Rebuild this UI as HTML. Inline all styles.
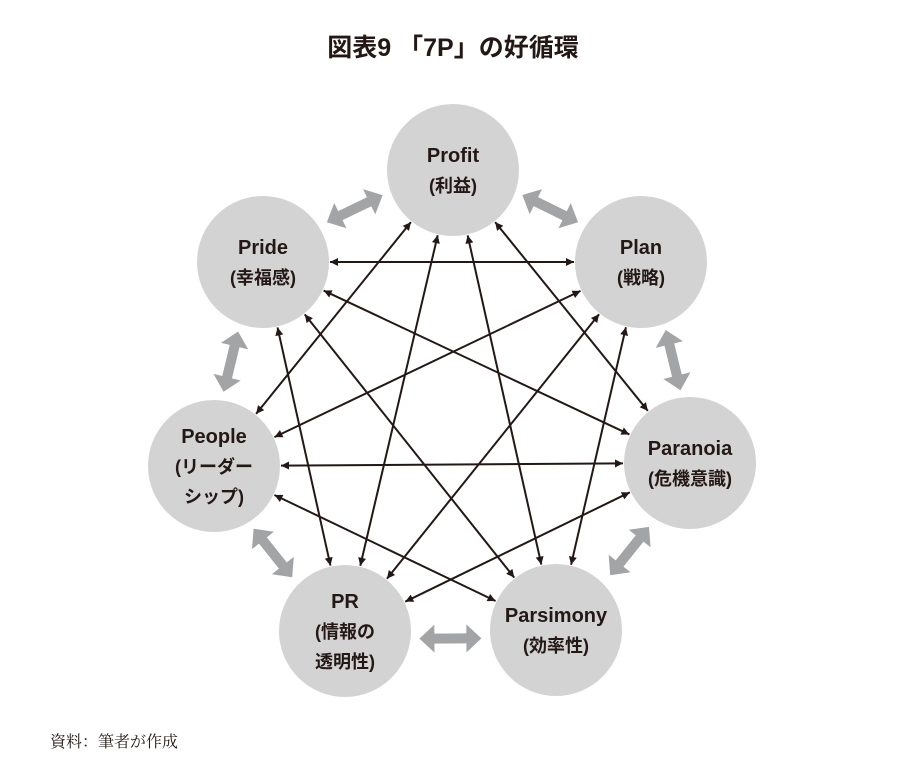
<!DOCTYPE html>
<html><head><meta charset="utf-8">
<style>
body{margin:0;background:#fff;width:913px;height:765px;overflow:hidden;}
svg{display:block}
.t{font-family:"Liberation Sans","Noto Sans CJK JP",sans-serif;font-weight:bold;fill:#231815;text-anchor:middle}
</style></head><body>
<svg id="s" width="913" height="765" viewBox="0 0 913 765">
<defs>
<marker id="ah" viewBox="0 0 10 10" refX="10" refY="5" markerWidth="11" markerHeight="8" markerUnits="userSpaceOnUse" orient="auto-start-reverse">
<path d="M0,0 L10,5 L0,10 z" fill="#231815"/></marker>
</defs>
<text x="453" y="56" class="t" font-size="25">図表9 「7P」の好循環</text>
<g id="g"></g>
<g id="c"></g>
<text x="50" y="747" font-family="'Liberation Serif','Noto Serif CJK SC',serif" font-size="16" fill="#231815">資料：筆者が作成</text>
</svg>
<script>
var N=[
{x:453,y:170,l:["Profit","(利益)"]},
{x:641,y:262,l:["Plan","(戦略)"]},
{x:690,y:463,l:["Paranoia","(危機意識)"]},
{x:556,y:630,l:["Parsimony","(効率性)"]},
{x:345,y:631,l:["PR","(情報の","透明性)"]},
{x:214,y:466,l:["People","(リーダー","シップ)"]},
{x:263,y:262,l:["Pride","(幸福感)"]}];
var R=66,ns="http://www.w3.org/2000/svg",g=document.getElementById("g"),c=document.getElementById("c");
function el(t,a,p){var e=document.createElementNS(ns,t);for(var k in a)e.setAttribute(k,a[k]);p.appendChild(e);return e;}
N.forEach(function(n){el("circle",{cx:n.x,cy:n.y,r:R,fill:"#d3d3d4"},c);
 var L=n.l.length,y0=n.y-(L-1)*15+7;
 n.l.forEach(function(s,i){var t=el("text",{x:n.x,y:y0+i*30,"class":"t","font-size":i==0?20:18},c);t.textContent=s;});});
for(var i=0;i<7;i++)for(var j=i+2;j<7;j++){if(i==0&&j==6)continue;
 var a=N[i],b=N[j],dx=b.x-a.x,dy=b.y-a.y,d=Math.hypot(dx,dy),ux=dx/d,uy=dy/d,o=R+1;
 el("line",{x1:a.x+ux*o,y1:a.y+uy*o,x2:b.x-ux*o,y2:b.y-uy*o,stroke:"#231815","stroke-width":2,"marker-start":"url(#ah)","marker-end":"url(#ah)"},g);}
var cx=453,cy=430;
for(var i=0;i<7;i++){var a=N[i],b=N[(i+1)%7],mx=(a.x+b.x)/2,my=(a.y+b.y)/2,
 ox=mx-cx,oy=my-cy,od=Math.hypot(ox,oy);mx+=ox/od*8;my+=oy/od*8;
 var dx=b.x-a.x,dy=b.y-a.y,d=Math.hypot(dx,dy),ux=dx/d,uy=dy/d,px=-uy,py=ux,h=31,hl=15,w=5,hw=14;
 var pts=[[-h,0],[-h+hl,hw],[-h+hl,w],[h-hl,w],[h-hl,hw],[h,0],[h-hl,-hw],[h-hl,-w],[-h+hl,-w],[-h+hl,-hw]];
 el("polygon",{points:pts.map(function(p){return (mx+ux*p[0]+px*p[1])+","+(my+uy*p[0]+py*p[1]);}).join(" "),fill:"#a3a4a6"},g);}
</script>
</body></html>
